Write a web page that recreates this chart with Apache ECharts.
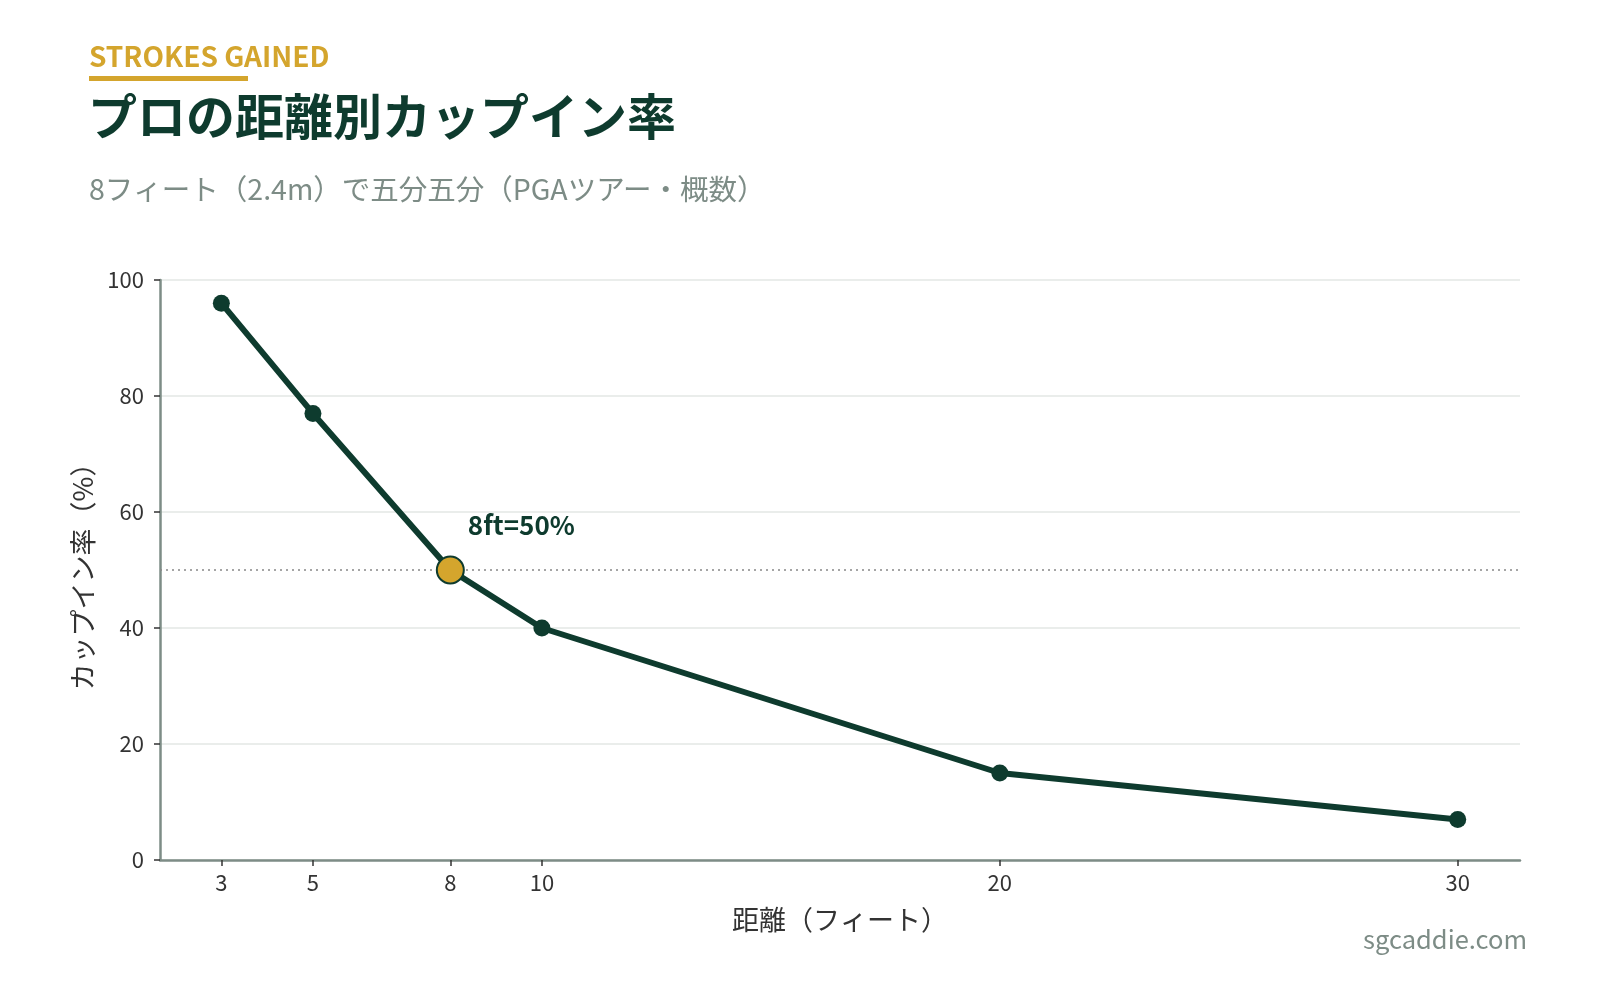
<!DOCTYPE html>
<html>
<head>
<meta charset="utf-8">
<script src="https://cdn.jsdelivr.net/npm/echarts@6/dist/echarts.min.js"></script>
<style>
  html, body { margin: 0; padding: 0; background: #fff; }
  #chart { width: 1600px; height: 1000px; }
</style>
</head>
<body>
<div id="chart"></div>
<script>
// 距離（フィート）とカップイン率（%）
var distances = [3, 5, 8, 10, 20, 30]
var makeRates = [96, 77, 50, 40, 15, 7]
var xTicks = [3, 5, 8, 10, 20, 30]
var highlightFt = 8
var fiftyLine = 50

var green = '#0E3B2E'
var gold = '#D4A52D'
var grey = '#7D8C86'
var font = '"Noto Sans CJK JP", "Noto Sans", sans-serif'

var chart = echarts.init(document.getElementById('chart'))

var points = distances.map(function (d, i) {
  var p = { value: [d, makeRates[i]] }
  if (d === highlightFt) {
    p.symbolSize = 27
    p.itemStyle = { color: gold, borderColor: green, borderWidth: 2 }
    p.label = {
      show: true,
      position: 'right',
      offset: [-2, -45],
      formatter: '8ft=50%',
      color: green,
      fontSize: 26,
      fontWeight: 'bold',
      fontFamily: font
    }
    p.z = 10
  }
  return p
})

var option = {
  backgroundColor: '#fff',
  textStyle: { fontFamily: font },
  animation: false,
  grid: { left: 160, right: 80, top: 280, bottom: 140 },
  graphic: [
    { type: 'text', left: 89, top: 42, style: { text: 'STROKES GAINED', fill: gold, font: 'bold 28px ' + font } },
    { type: 'rect', shape: { x: 89, y: 76, width: 159, height: 5 }, style: { fill: gold } },
    { type: 'text', left: 88, top: 92, style: { text: 'プロの距離別カップイン率', fill: green, font: 'bold 49px ' + font } },
    { type: 'text', left: 89, top: 175, style: { text: '8フィート（2.4m）で五分五分（PGAツアー・概数）', fill: grey, font: '28.5px ' + font } },
    { type: 'text', right: 73, top: 927, style: { text: 'sgcaddie.com', fill: grey, font: '25.5px ' + font } }
  ],
  xAxis: {
    type: 'value',
    min: 1.66,
    max: 31.36,
    name: '距離（フィート）',
    nameLocation: 'middle',
    nameGap: 46,
    nameTextStyle: { color: '#333', fontSize: 27, fontFamily: font },
    axisLine: { lineStyle: { color: grey, width: 2.5 } },
    axisTick: { show: true, customValues: xTicks, length: 6, lineStyle: { color: '#333', width: 1.5 } },
    axisLabel: { customValues: xTicks, color: '#333', fontSize: 22, margin: 12 },
    splitLine: { show: false }
  },
  yAxis: {
    type: 'value',
    min: 0,
    max: 100,
    interval: 20,
    name: 'カップイン率（%）',
    nameLocation: 'middle',
    nameGap: 63,
    nameRotate: 90,
    nameTextStyle: { color: '#333', fontSize: 27, fontFamily: font },
    axisLine: { show: true, lineStyle: { color: grey, width: 2.5 } },
    axisTick: { show: true, length: 6, lineStyle: { color: '#333', width: 1.5 } },
    axisLabel: { color: '#333', fontSize: 22, margin: 16 },
    splitLine: { lineStyle: { color: '#E3E7E5', width: 1.5 } }
  },
  series: [
    {
      type: 'line',
      data: points,
      symbol: 'circle',
      symbolSize: 17,
      lineStyle: { color: green, width: 6 },
      itemStyle: { color: green },
      markLine: {
        silent: true,
        symbol: 'none',
        label: { show: false },
        lineStyle: { color: '#888', type: [2, 4], width: 1.5 },
        data: [{ yAxis: fiftyLine }],
        z: 1
      }
    }
  ]
}

chart.setOption(option)
</script>
</body>
</html>
